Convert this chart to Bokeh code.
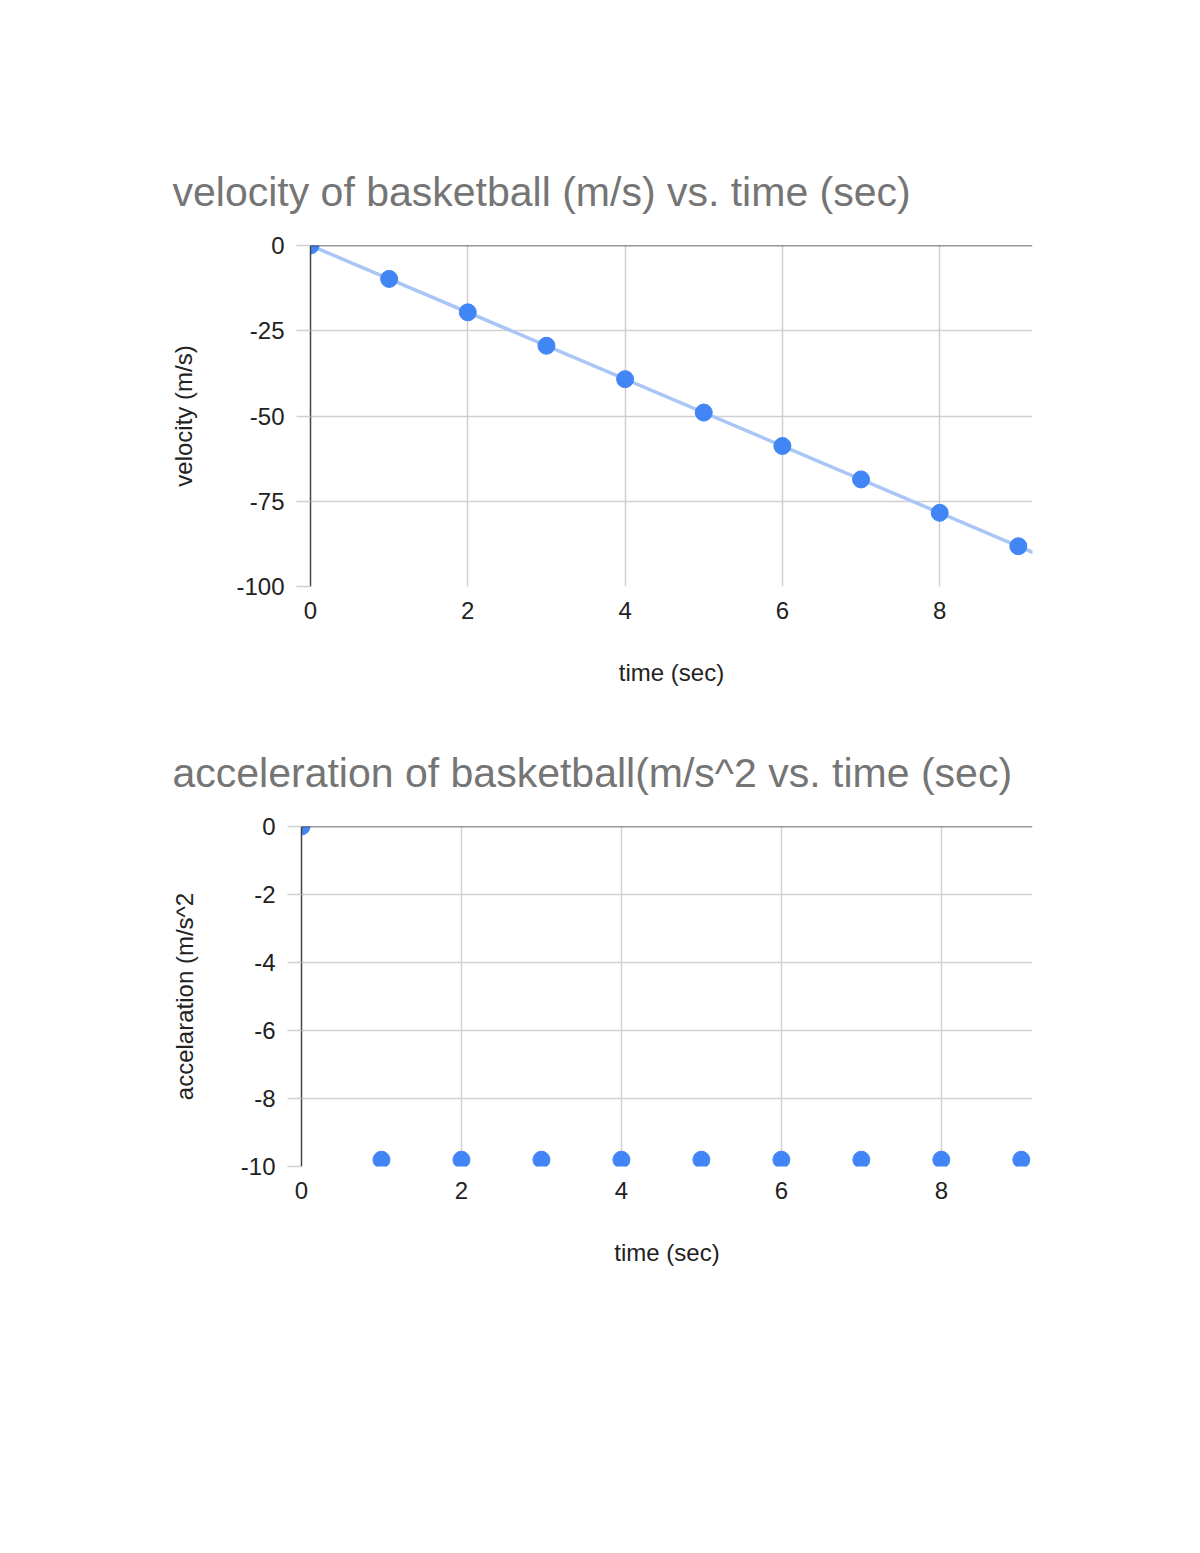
import numpy as np
from bokeh.plotting import figure
from bokeh.layouts import column, row
from bokeh.models import Range1d, Span, FixedTicker, Title, PrintfTickFormatter
from bokeh.embed import file_html
from bokeh.resources import INLINE

# data
time_s = [0, 1, 2, 3, 4, 5, 6, 7, 8, 9]
velocity = [0, -9.8, -19.6, -29.4, -39.2, -49.0, -58.8, -68.6, -78.4, -88.2]
acceleration = [0, -9.8, -9.8, -9.8, -9.8, -9.8, -9.8, -9.8, -9.8, -9.8]
x_ticks = [0, 2, 4, 6, 8]
v_ticks = [-100, -75, -50, -25, 0]
a_ticks = [-10, -8, -6, -4, -2, 0]

FONT = "Liberation Sans"
BLUE = "#4285f4"
GRID = "#d0d0d0"


def make_chart(title, ylabel, yticks, xmax, left, top, bottom, height, title_off, ylabel_standoff):
    p = figure(width=1184, height=height, output_backend="svg", toolbar_location=None,
               x_range=Range1d(0, xmax), y_range=Range1d(yticks[0], yticks[-1]),
               min_border_left=left, min_border_right=152, min_border_top=top,
               min_border_bottom=bottom, title=None)
    t = Title(text=title, text_font=FONT, text_font_size="41px", text_color="#757575",
              text_font_style="normal", align="left", offset=title_off, standoff=62)
    p.add_layout(t, "above")
    p.outline_line_color = None
    p.xgrid.ticker = FixedTicker(ticks=x_ticks)
    p.ygrid.ticker = FixedTicker(ticks=yticks)
    p.grid.grid_line_color = GRID
    p.grid.grid_line_width = 1.5
    p.xaxis.ticker = FixedTicker(ticks=x_ticks)
    p.yaxis.ticker = FixedTicker(ticks=yticks)
    p.yaxis.formatter = PrintfTickFormatter(format="%d")
    p.xaxis.axis_label = "time (sec)"
    p.yaxis.axis_label = ylabel
    for ax in (p.xaxis[0], p.yaxis[0]):
        ax.major_label_text_font = FONT
        ax.major_label_text_font_size = "24px"
        ax.major_label_text_color = "#222222"
        ax.axis_label_text_font = FONT
        ax.axis_label_text_font_size = "24px"
        ax.axis_label_text_font_style = "normal"
        ax.axis_label_text_color = "#222222"
        ax.minor_tick_line_color = None
    p.xaxis.axis_line_color = None
    p.xaxis.major_tick_line_color = None
    p.xaxis.major_label_standoff = 9
    p.xaxis.axis_label_standoff = 37
    p.yaxis.axis_line_color = "#444444"
    p.yaxis.axis_line_width = 1.5
    p.yaxis.major_tick_line_color = GRID
    p.yaxis.major_tick_line_width = 1.5
    p.yaxis.major_tick_out = 14
    p.yaxis.major_tick_in = 0
    p.yaxis.major_label_standoff = 12
    p.yaxis.axis_label_standoff = ylabel_standoff
    p.add_layout(Span(location=0, dimension="width", line_color="#333333", line_width=1.5))
    return p


p1 = make_chart("velocity of basketball (m/s) vs. time (sec)", "velocity (m/s)", v_ticks,
                9.18, 310, 245, 128, 714, -138, 36)
slope, icpt = np.polyfit(time_s, velocity, 1)
trend_x = [0, 10]
p1.line(trend_x, [icpt + slope * v for v in trend_x], line_color="#a9c6f7", line_width=3.5)
p1.scatter(time_s, velocity, size=17, color=BLUE)

p2 = make_chart("acceleration of basketball(m/s^2 vs. time (sec)", "accelaration (m/s^2", a_ticks,
                9.14, 301, 112, 134, 586, -129, 40)
p2.scatter(time_s, acceleration, size=17, color=BLUE)

layout = column(row(p1), row(p2), spacing=0)
open("out.html", "w").write(file_html(layout, INLINE))
